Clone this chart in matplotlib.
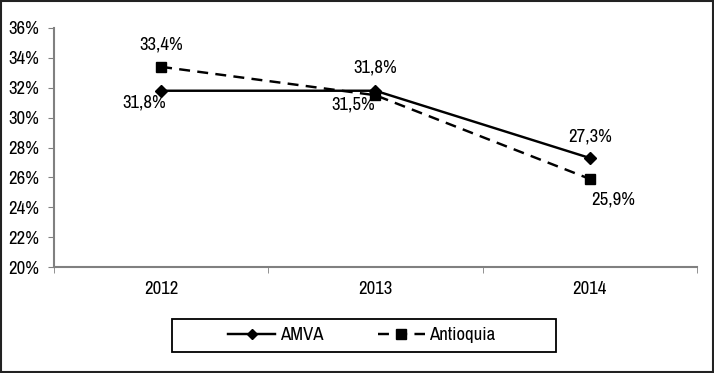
import matplotlib.pyplot as plt
from matplotlib.patches import Rectangle
from matplotlib.lines import Line2D

# datos
years = ['2012', '2013', '2014']
amva = [31.8, 31.8, 27.3]
antioquia = [33.4, 31.5, 25.9]
amva_labels = ['31,8%', '31,8%', '27,3%']
antioquia_labels = ['33,4%', '31,5%', '25,9%']
yticks = [20, 22, 24, 26, 28, 30, 32, 34, 36]

plt.rcParams['font.family'] = ['Archivo Narrow', 'Liberation Sans', 'DejaVu Sans']
plt.rcParams['font.size'] = 13.5

fig = plt.figure(figsize=(7.14, 3.73), dpi=100)
ax = fig.add_axes([0.0756, 0.284, 0.9004, 0.641])

x = range(len(years))
ax.plot(x, amva, color='black', linewidth=1.75, marker='D', markersize=6, label='AMVA')
ax.plot(x, antioquia, color='black', linewidth=1.75, linestyle=(0, (4.5, 3)), marker='s',
        markersize=7.5, label='Antioquia')

# etiquetas de los puntos (offset en pixeles)
amva_off = [(-17, -12), (0, 23), (0, 21)]
ant_off = [(0, 22), (-22, -9), (23, -21)]
for i in x:
    ax.annotate(amva_labels[i], (i, amva[i]), xytext=amva_off[i], textcoords='offset pixels',
                ha='center', va='center')
    ax.annotate(antioquia_labels[i], (i, antioquia[i]), xytext=ant_off[i],
                textcoords='offset pixels', ha='center', va='center')

ax.set_xlim(-0.5, 2.5)
ax.set_ylim(20, 36)
ax.set_yticks(yticks)
ax.set_yticklabels([f'{t}%' for t in yticks])
ax.set_xticks(list(x))
ax.set_xticklabels(years)
ax.set_xticks([-0.5, 0.5, 1.5, 2.5], minor=True)
ax.tick_params(axis='x', which='major', length=0, pad=10)
ax.tick_params(axis='x', which='minor', length=4, color='#808080', direction='out')
ax.tick_params(axis='y', length=4, color='#808080', direction='out', pad=7)

for s in ['top', 'right']:
    ax.spines[s].set_visible(False)
for s in ['left', 'bottom']:
    ax.spines[s].set_color('#808080')
    ax.spines[s].set_linewidth(1.5)

# leyenda sin marco, el marco se dibuja aparte
handles = [Line2D([], [], color='black', linewidth=1.75, marker='D', markersize=5),
           Line2D([], [], color='black', linewidth=1.75, linestyle=(0, (4.5, 3)), marker='s',
                  markersize=6.5)]
fig.legend(handles, ['AMVA', 'Antioquia'], loc='center', bbox_to_anchor=(362 / 714, 1 - 335 / 373),
           ncol=2, frameon=False, handlelength=2.5, handletextpad=0.25, columnspacing=2.9)
fig.patches.append(Rectangle((172 / 714, 1 - 352 / 373), 384 / 714, 33 / 373,
                             transform=fig.transFigure, fill=False, edgecolor='black',
                             linewidth=1.3))

# marco exterior
fig.patches.append(Rectangle((0.002, 0.003), 0.996, 0.994, transform=fig.transFigure,
                             fill=False, edgecolor='#222222', linewidth=1.5))

fig.savefig('out.png', dpi=100)
